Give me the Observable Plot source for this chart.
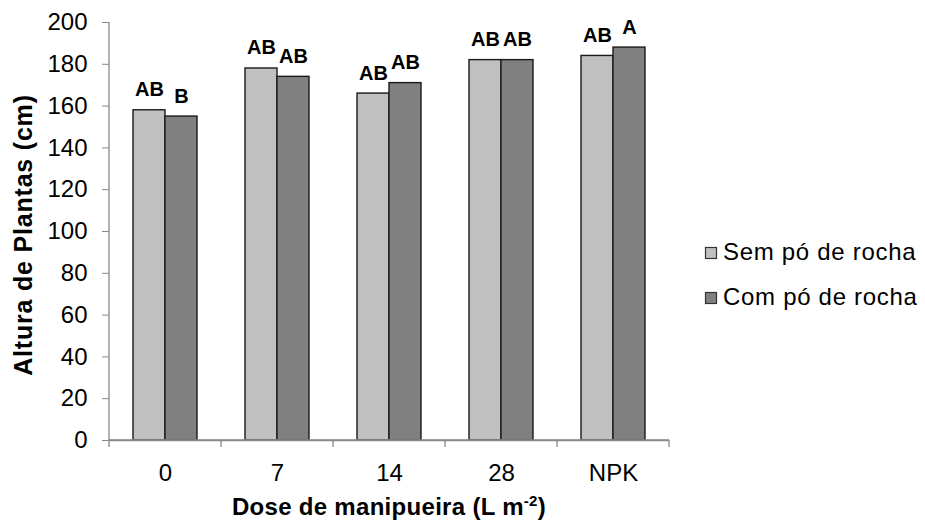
<!DOCTYPE html>
<html><head><meta charset="utf-8">
<script src="https://cdn.jsdelivr.net/npm/d3@7"></script>
<script src="https://cdn.jsdelivr.net/npm/@observablehq/plot@0.6"></script>
<style>
body{margin:0;background:#fff;}
#chart{width:925px;height:520px;}
</style>
</head><body><div id="chart"></div>
<script>
const doses = ["0", "7", "14", "28", "NPK"];
const series = ["Sem pó de rocha", "Com pó de rocha"];
const semValues = [158, 178, 166, 182, 184];
const comValues = [155, 174, 171, 182, 188];
const semLetters = ["AB", "AB", "AB", "AB", "AB"];
const comLetters = ["B", "AB", "AB", "AB", "A"];
const yTicks = [0, 20, 40, 60, 80, 100, 120, 140, 160, 180, 200];
const seriesColors = ["#c0c0c0", "#808080"];
const yTitle = "Altura de Plantas (cm)";
const xTitle = "Dose de manipueira (L m";
const xTitleSup = "-2";

const FONT = "'Liberation Sans', Arial, sans-serif";
const AXIS_GRAY = "#898989";

const data = doses.flatMap((d, i) => [
  {dose: d, serie: series[0], value: semValues[i], letter: semLetters[i]},
  {dose: d, serie: series[1], value: comValues[i], letter: comLetters[i]}
]);

const plot = Plot.plot({
  width: 925, height: 520,
  marginLeft: 108, marginRight: 256, marginTop: 22, marginBottom: 80,
  style: {fontFamily: FONT, fontSize: "24px", color: "#000", background: "#fff"},
  fx: {domain: doses, padding: 0, label: null},
  x: {domain: series, paddingInner: 0, paddingOuter: 0.75, axis: null},
  y: {domain: [0, 200], label: null},
  color: {domain: series, range: seriesColors},
  marks: [
    Plot.barY(data, {fx: "dose", x: "serie", y: "value", fill: "serie", stroke: "#1a1a1a", strokeWidth: 1.4}),
    Plot.text(data, {fx: "dose", x: "serie", y: "value", text: "letter", dy: -14, lineAnchor: "bottom", fontWeight: "bold", fontSize: 20, fill: "#000"}),
    Plot.ruleY([0], {stroke: AXIS_GRAY, strokeWidth: 1.3}),
    Plot.axisY({ticks: yTicks, tickSize: 7, tickPadding: 15, stroke: AXIS_GRAY, fill: "#000", label: null, fontSize: 24}),
    Plot.axisFx({anchor: "bottom", tickSize: 0, tickPadding: 23, label: null, fontSize: 24, fill: "#000"})
  ]
});

document.getElementById("chart").appendChild(plot);

const svg = d3.select(plot);
const y = plot.scale("y"), fx = plot.scale("fx"), color = plot.scale("color");
const y0 = y.apply(0), yTop = y.apply(200);
const edges = doses.map(d => fx.apply(d));
edges.push(fx.apply(doses[doses.length - 1]) + fx.bandwidth);

const g = svg.append("g").attr("stroke", AXIS_GRAY).attr("stroke-width", 1.3);
g.append("line").attr("x1", edges[0]).attr("x2", edges[0]).attr("y1", yTop).attr("y2", y0 + 7);
g.selectAll("line.t").data(edges.slice(1)).join("line").attr("class", "t")
  .attr("x1", d => d).attr("x2", d => d).attr("y1", y0).attr("y2", y0 + 7);
g.append("line").attr("x1", edges[0]).attr("x2", edges[edges.length - 1]).attr("y1", y0).attr("y2", y0);

// titles
svg.append("text")
  .attr("transform", `translate(32,${(yTop + y0) / 2 + 4}) rotate(-90)`)
  .attr("text-anchor", "middle").attr("font-weight", "bold").attr("font-size", 25)
  .attr("letter-spacing", 0.8).attr("fill", "#000").attr("font-family", FONT)
  .text(yTitle);

const xt = svg.append("text")
  .attr("x", (edges[0] + edges[edges.length - 1]) / 2).attr("y", 515)
  .attr("text-anchor", "middle").attr("font-weight", "bold").attr("font-size", 24)
  .attr("letter-spacing", 0.3).attr("fill", "#000").attr("font-family", FONT);
xt.append("tspan").text(xTitle);
xt.append("tspan").attr("font-size", 15).attr("dy", -9).text(xTitleSup);
xt.append("tspan").attr("dy", 9).text(")");

// legend
const lg = svg.append("g").attr("font-family", FONT).attr("font-size", 24)
  .attr("letter-spacing", 0.7).attr("text-anchor", "start");
series.forEach((s, i) => {
  const base = 260 + i * 45;
  lg.append("rect").attr("x", 705.5).attr("y", base - 12.5).attr("width", 11).attr("height", 11)
    .attr("fill", color.apply(s)).attr("stroke", "#333").attr("stroke-width", 1.2);
  lg.append("text").attr("x", 723).attr("y", base).attr("fill", "#000")
    .attr("text-anchor", "start").text(s);
});
</script>
</body></html>
